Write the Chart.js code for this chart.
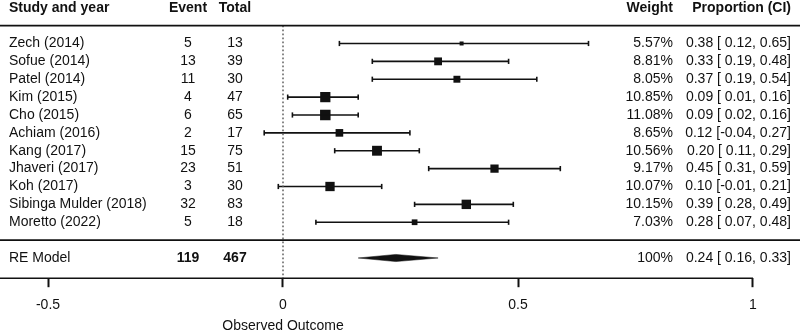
<!DOCTYPE html>
<html lang="en">
<head>
  <meta charset="UTF-8">
  <title>Forest plot</title>
  <script src="https://cdn.jsdelivr.net/npm/chart.js"></script>
  <style>
    body { margin: 0; background: #fff; }
    .wrap { width: 800px; height: 334px; position: relative; }
  </style>
</head>
<body>
  <div class="wrap"><canvas id="forest"></canvas></div>

  <script>
    // data
    const studies = ['Zech (2014)', 'Sofue (2014)', 'Patel (2014)', 'Kim (2015)', 'Cho (2015)', 'Achiam (2016)',
                     'Kang (2017)', 'Jhaveri (2017)', 'Koh (2017)', 'Sibinga Mulder (2018)', 'Moretto (2022)'];
    const events = [5, 13, 11, 4, 6, 2, 15, 23, 3, 32, 5];
    const totals = [13, 39, 30, 47, 65, 17, 75, 51, 30, 83, 18];
    const weights = [5.57, 8.81, 8.05, 10.85, 11.08, 8.65, 10.56, 9.17, 10.07, 10.15, 7.03];
    const estimates = [0.38, 0.33, 0.37, 0.09, 0.09, 0.12, 0.20, 0.45, 0.10, 0.39, 0.28];
    const lowers = [0.12, 0.19, 0.19, 0.01, 0.02, -0.04, 0.11, 0.31, -0.01, 0.28, 0.07];
    const uppers = [0.65, 0.48, 0.54, 0.16, 0.16, 0.27, 0.29, 0.59, 0.21, 0.49, 0.48];

    const pooledLabel = 'RE Model';
    const pooledEvents = 119;
    const pooledTotal = 467;
    const pooledWeight = '100%';
    const pooledEst = 0.24;
    const pooledLower = 0.16;
    const pooledUpper = 0.33;

    const xTicks = [-0.5, 0, 0.5, 1];
    const xTitle = 'Observed Outcome';
    const headers = ['Study and year', 'Event', 'Total', 'Weight', 'Proportion (CI)'];

    // row layout: header -1, studies 1..11, pooled 13
    const rows = studies.map((s, i) => i + 1);
    const pooledRow = 13;
    const sepRow = 12;

    const FONT = '"Liberation Sans", Arial, Helvetica, sans-serif';
    const INK = '#111';

    const minW = Math.min(...weights), maxW = Math.max(...weights);
    const squareSide = weights.map(w => 4 + (w - minW) / (maxW - minW) * 6.5);

    function fmt(v) {
      const s = v.toFixed(2);
      return v < 0 ? s : ' ' + s;
    }
    function ciText(est, lo, hi) {
      return est.toFixed(2) + ' [' + fmt(lo) + ', ' + hi.toFixed(2) + ']';
    }

    Chart.defaults.font.family = FONT;
    Chart.defaults.font.size = 14;
    Chart.defaults.color = INK;

    // one dataset per study whisker, with caps
    const whiskers = studies.map((s, i) => ({
      type: 'line',
      data: [{ x: lowers[i], y: rows[i] }, { x: uppers[i], y: rows[i] }],
      borderColor: INK,
      borderWidth: 1.6,
      pointStyle: 'line',
      rotation: 90,
      pointRadius: 2.6,
      pointBorderWidth: 1.6,
      pointBorderColor: INK,
      fill: false,
      clip: false
    }));

    const squares = {
      type: 'scatter',
      data: estimates.map((e, i) => ({ x: e, y: rows[i] })),
      pointStyle: 'rect',
      pointRadius: squareSide.map(s => s / Math.SQRT2),
      pointBackgroundColor: INK,
      pointBorderWidth: 0,
      clip: false
    };

    const diamond = {
      type: 'line',
      data: [
        { x: pooledLower, y: pooledRow },
        { x: pooledEst, y: pooledRow - 0.2 },
        { x: pooledUpper, y: pooledRow },
        { x: pooledEst, y: pooledRow + 0.2 },
        { x: pooledLower, y: pooledRow }
      ],
      borderColor: INK,
      borderWidth: 0.5,
      backgroundColor: INK,
      fill: 'shape',
      pointRadius: 0,
      tension: 0,
      clip: false
    };

    const yMin = -1.4326;
    const yMax = 14.13;

    const refLine = {
      type: 'line',
      data: [{ x: 0, y: 0 }, { x: 0, y: yMax }],
      borderColor: '#555',
      borderWidth: 1.4,
      borderDash: [1.6, 2.4],
      pointRadius: 0,
      fill: false,
      clip: false
    };

    // rules and text columns
    const tablePlugin = {
      id: 'table',
      afterDatasetsDraw(chart) {
        const ctx = chart.ctx;
        const xs = chart.scales.x, ys = chart.scales.y;
        const W = chart.width;
        ctx.save();
        ctx.strokeStyle = INK;
        ctx.lineWidth = 1.6;
        [[0, W, 0], [0, W, sepRow], [0, xs.getPixelForValue(1), yMax]].forEach(r => {
          const y = ys.getPixelForValue(r[2]);
          ctx.beginPath();
          ctx.moveTo(r[0], y);
          ctx.lineTo(r[1], y);
          ctx.stroke();
        });

        ctx.fillStyle = INK;
        ctx.textBaseline = 'middle';
        const colStudy = 9, colEvent = 188, colTotal = 235, colWeight = 673, colCI = 791;

        function put(txt, x, row, align, bold) {
          ctx.font = (bold ? 'bold ' : '') + '14px ' + FONT;
          ctx.textAlign = align;
          ctx.fillText(txt, x, ys.getPixelForValue(row));
        }

        put(headers[0], colStudy, -1, 'left', true);
        put(headers[1], colEvent, -1, 'center', true);
        put(headers[2], colTotal, -1, 'center', true);
        put(headers[3], colWeight, -1, 'right', true);
        put(headers[4], colCI, -1, 'right', true);

        studies.forEach((s, i) => {
          put(s, colStudy, rows[i], 'left', false);
          put(String(events[i]), colEvent, rows[i], 'center', false);
          put(String(totals[i]), colTotal, rows[i], 'center', false);
          put(weights[i].toFixed(2) + '%', colWeight, rows[i], 'right', false);
          put(ciText(estimates[i], lowers[i], uppers[i]), colCI, rows[i], 'right', false);
        });

        put(pooledLabel, colStudy, pooledRow, 'left', false);
        put(String(pooledEvents), colEvent, pooledRow, 'center', true);
        put(String(pooledTotal), colTotal, pooledRow, 'center', true);
        put(pooledWeight, colWeight, pooledRow, 'right', false);
        put(ciText(pooledEst, pooledLower, pooledUpper), colCI, pooledRow, 'right', false);

        ctx.font = '14px ' + FONT;
        ctx.textAlign = 'center';
        ctx.fillText(xTitle, xs.getPixelForValue(0), 326);
        ctx.restore();
      }
    };

    new Chart(document.getElementById('forest'), {
      data: { datasets: [refLine, ...whiskers, squares, diamond] },
      options: {
        responsive: true,
        maintainAspectRatio: false,
        animation: false,
        events: [],
        layout: { autoPadding: false, padding: { top: 0, left: 0, right: 0, bottom: 10 } },
        plugins: { legend: { display: false }, tooltip: { enabled: false } },
        scales: {
          x: {
            type: 'linear',
            min: -283 / 470,
            max: 517 / 470,
            afterBuildTicks: scale => { scale.ticks = xTicks.map(v => ({ value: v })); },
            ticks: { padding: 10, callback: v => String(v), color: INK, font: { size: 14 } },
            grid: { drawOnChartArea: false, drawTicks: true, tickLength: 9, tickWidth: 2, tickColor: INK },
            border: { display: false }
          },
          y: {
            type: 'linear',
            display: false,
            reverse: true,
            min: yMin,
            max: yMax
          }
        }
      },
      plugins: [tablePlugin]
    });
  </script>
</body>
</html>
